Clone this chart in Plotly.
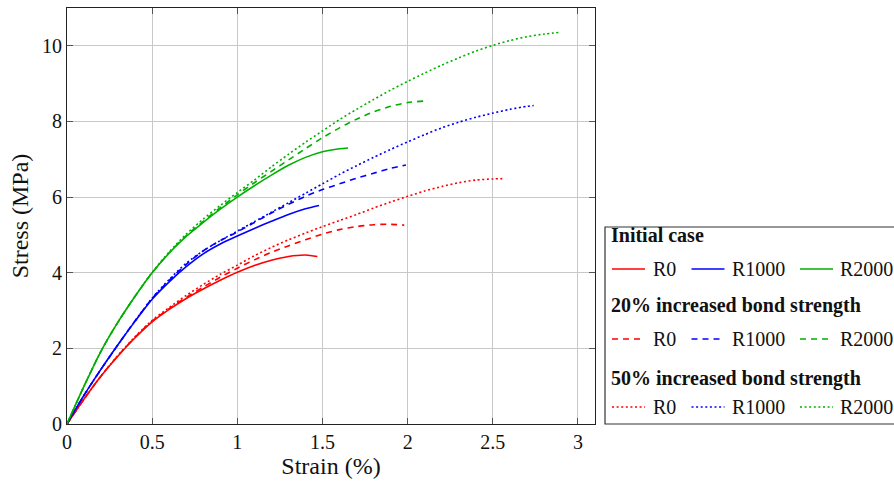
import plotly.graph_objects as go

# ---------------- data ----------------
strain_r0_init = [0, 0.1, 0.2, 0.3, 0.4, 0.5, 0.6, 0.7, 0.8, 0.9, 1.0, 1.1, 1.2, 1.3, 1.4, 1.47]
stress_r0_init = [0, 0.66, 1.27, 1.8, 2.28, 2.7, 3.03, 3.32, 3.57, 3.8, 4.01, 4.19, 4.33, 4.43, 4.47, 4.43]

strain_r1000_init = [0, 0.1, 0.2, 0.3, 0.4, 0.5, 0.6, 0.7, 0.8, 0.9, 1.0, 1.1, 1.2, 1.3, 1.4, 1.48]
stress_r1000_init = [0, 0.76, 1.45, 2.1, 2.72, 3.3, 3.76, 4.16, 4.5, 4.76, 4.97, 5.17, 5.36, 5.54, 5.69, 5.78]

strain_r2000_init = [0, 0.1, 0.2, 0.3, 0.4, 0.5, 0.6, 0.7, 0.8, 0.9, 1.0, 1.1, 1.2, 1.3, 1.4, 1.5, 1.6, 1.65]
stress_r2000_init = [0, 1.0, 1.93, 2.7, 3.38, 4.0, 4.52, 4.96, 5.33, 5.68, 6.0, 6.3, 6.58, 6.84, 7.05, 7.2, 7.28, 7.3]

strain_r0_20 = [0, 0.1, 0.2, 0.3, 0.4, 0.5, 0.6, 0.7, 0.8, 0.9, 1.0, 1.1, 1.2, 1.3, 1.4, 1.5, 1.6, 1.7, 1.8, 1.9, 1.98]
stress_r0_20 = [0, 0.66, 1.27, 1.81, 2.3, 2.72, 3.05, 3.35, 3.62, 3.88, 4.12, 4.34, 4.54, 4.71, 4.87, 5.02, 5.14, 5.22, 5.27, 5.28, 5.26]

strain_r1000_20 = [0, 0.1, 0.2, 0.3, 0.4, 0.5, 0.6, 0.7, 0.8, 0.9, 1.0, 1.1, 1.2, 1.3, 1.4, 1.5, 1.6, 1.7, 1.8, 1.9, 1.99]
stress_r1000_20 = [0, 0.76, 1.45, 2.1, 2.73, 3.32, 3.8, 4.22, 4.58, 4.85, 5.08, 5.33, 5.58, 5.81, 6.02, 6.2, 6.35, 6.5, 6.63, 6.76, 6.85]

strain_r2000_20 = [0, 0.1, 0.2, 0.3, 0.4, 0.5, 0.6, 0.7, 0.8, 0.9, 1.0, 1.1, 1.2, 1.3, 1.4, 1.5, 1.6, 1.7, 1.8, 1.9, 2.0, 2.1]
stress_r2000_20 = [0, 1.0, 1.93, 2.7, 3.38, 4.0, 4.53, 4.98, 5.36, 5.72, 6.06, 6.38, 6.68, 6.98, 7.28, 7.57, 7.83, 8.06, 8.25, 8.4, 8.5, 8.54]

strain_r0_50 = [0, 0.1, 0.2, 0.3, 0.4, 0.5, 0.6, 0.7, 0.8, 0.9, 1.0, 1.1, 1.2, 1.3, 1.4, 1.5, 1.6, 1.7, 1.8,
                1.9, 2.0, 2.1, 2.2, 2.3, 2.4, 2.5, 2.57]
stress_r0_50 = [0, 0.66, 1.27, 1.82, 2.31, 2.74, 3.08, 3.4, 3.69, 3.96, 4.2, 4.45, 4.67, 4.87, 5.05, 5.22, 5.38, 5.54, 5.71,
                5.87, 6.02, 6.16, 6.28, 6.38, 6.45, 6.48, 6.49]

strain_r1000_50 = [0, 0.1, 0.2, 0.3, 0.4, 0.5, 0.6, 0.7, 0.8, 0.9, 1.0, 1.1, 1.2, 1.3, 1.4, 1.5, 1.6, 1.7, 1.8,
                   1.9, 2.0, 2.1, 2.2, 2.3, 2.4, 2.5, 2.6, 2.7, 2.74]
stress_r1000_50 = [0, 0.76, 1.45, 2.1, 2.73, 3.33, 3.82, 4.25, 4.58, 4.85, 5.1, 5.35, 5.6, 5.85, 6.1, 6.35, 6.6, 6.83, 7.05,
                   7.26, 7.46, 7.65, 7.83, 7.98, 8.11, 8.22, 8.32, 8.4, 8.42]

strain_r2000_50 = [0, 0.1, 0.2, 0.3, 0.4, 0.5, 0.6, 0.7, 0.8, 0.9, 1.0, 1.1, 1.2, 1.3, 1.4, 1.5, 1.6, 1.7, 1.8,
                   1.9, 2.0, 2.1, 2.2, 2.3, 2.4, 2.5, 2.6, 2.7, 2.8, 2.9]
stress_r2000_50 = [0, 1.0, 1.93, 2.7, 3.38, 4.01, 4.55, 5.02, 5.42, 5.78, 6.12, 6.45, 6.8, 7.13, 7.45, 7.75, 8.05, 8.32, 8.58,
                   8.83, 9.06, 9.28, 9.49, 9.68, 9.86, 10.01, 10.14, 10.24, 10.31, 10.36]

x_ticks = [0, 0.5, 1, 1.5, 2, 2.5, 3]
y_ticks = [0, 2, 4, 6, 8, 10]

group_titles = ["Initial case", "20% increased bond strength", "50% increased bond strength"]
series_names = ["R0", "R1000", "R2000"]

# ---------------- styles ----------------
RED, BLUE, GREEN = "#ff0000", "#0000ff", "#00b000"
colors = [RED, BLUE, GREEN]
DASH = "6px,5px"
DOT = "2px,2.6px"
dashes = ["solid", DASH, DOT]
LW = 1.6
FONT = "Liberation Serif"

series = [
    [(strain_r0_init, stress_r0_init), (strain_r1000_init, stress_r1000_init), (strain_r2000_init, stress_r2000_init)],
    [(strain_r0_20, stress_r0_20), (strain_r1000_20, stress_r1000_20), (strain_r2000_20, stress_r2000_20)],
    [(strain_r0_50, stress_r0_50), (strain_r1000_50, stress_r1000_50), (strain_r2000_50, stress_r2000_50)],
]

fig = go.Figure()
for gi, grp in enumerate(series):
    for si, (xs, ys) in enumerate(grp):
        fig.add_trace(go.Scatter(
            x=xs, y=ys, mode="lines", name=f"{series_names[si]} ({group_titles[gi]})",
            line=dict(color=colors[si], width=LW, dash=dashes[gi], shape="spline", smoothing=0.8),
            showlegend=False, hoverinfo="x+y",
        ))

# ---------------- layout ----------------
W, H = 894, 481
ML, MR, MT, MB = 67, 299, 8, 57
PW, PH = W - ML - MR, H - MT - MB


def px2x(px):
    return (px - ML) / PW


def px2y(py):
    return (H - MB - py) / PH


axis_common = dict(
    showgrid=True, gridcolor="#c8c8c8", gridwidth=1,
    showline=True, linecolor="#222222", linewidth=1.2, mirror="ticks",
    ticks="inside", ticklen=6, tickcolor="#555555", tickwidth=1,
    zeroline=False,
    tickfont=dict(family=FONT, size=20, color="#111111"),
)

fig.update_layout(
    width=W, height=H,
    margin=dict(l=ML, r=MR, t=MT, b=MB, autoexpand=False),
    paper_bgcolor="white", plot_bgcolor="white",
    font=dict(family=FONT, color="#111111", size=20),
    xaxis=dict(range=[0, 3.1], tickvals=x_ticks, ticktext=[str(v) for v in x_ticks],
               title=dict(text="Strain (%)", font=dict(family=FONT, size=24, color="#111111"), standoff=2),
               **axis_common),
    yaxis=dict(range=[0, 11], tickvals=y_ticks, ticktext=[str(v) for v in y_ticks],
               title=dict(text="Stress (MPa)", font=dict(family=FONT, size=24, color="#111111"), standoff=6),
               **axis_common),
)

# ---------------- custom grouped legend ----------------
shapes = []
annotations = []
shapes.append(dict(type="rect", xref="paper", yref="paper",
                   x0=px2x(605), x1=px2x(905), y0=px2y(424), y1=px2y(227),
                   line=dict(color="#333333", width=1.2), fillcolor="white", layer="above"))

title_y = [235, 305.5, 378.5]
row_y = [269, 339, 407]
line_x = [(612, 645), (691.5, 724.5), (800, 833)]
text_x = [651, 730, 838]

for gi in range(3):
    annotations.append(dict(xref="paper", yref="paper", x=px2x(609), y=px2y(title_y[gi]),
                            text=f"<b>{group_titles[gi]}</b>", showarrow=False,
                            xanchor="left", yanchor="middle",
                            font=dict(family=FONT, size=20, color="#111111")))
    for si in range(3):
        x0, x1 = line_x[si]
        shapes.append(dict(type="line", xref="paper", yref="paper",
                           x0=px2x(x0), x1=px2x(x1), y0=px2y(row_y[gi]), y1=px2y(row_y[gi]),
                           line=dict(color=colors[si], width=LW, dash=dashes[gi]), layer="above"))
        annotations.append(dict(xref="paper", yref="paper", x=px2x(text_x[si]), y=px2y(row_y[gi]),
                                text=series_names[si], showarrow=False,
                                xanchor="left", yanchor="middle",
                                font=dict(family=FONT, size=20, color="#111111")))

fig.update_layout(shapes=shapes, annotations=annotations)

fig.write_html("out.html",
               config={"displayModeBar": False},
               post_script="document.body.style.margin='0';document.body.style.overflow='hidden';")
